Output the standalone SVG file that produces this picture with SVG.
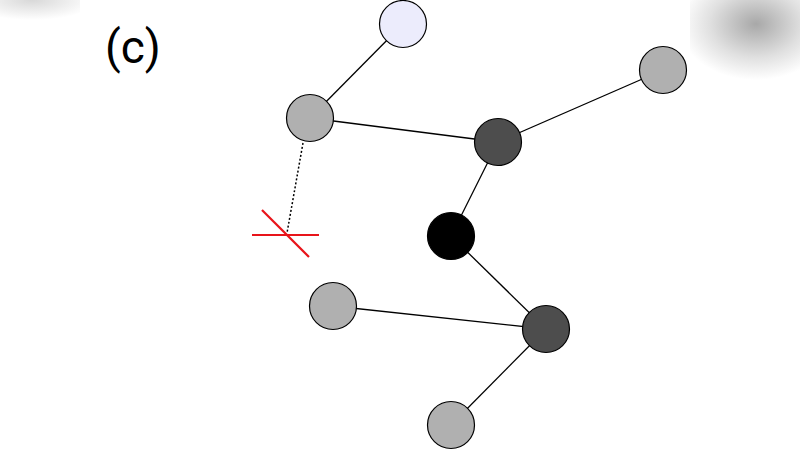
<svg xmlns="http://www.w3.org/2000/svg" width="800" height="450" viewBox="0 0 800 450">
<style>
.e{stroke:#000;stroke-width:1.3}
.n{stroke:#000;stroke-width:1.2}
.l{fill:#ececfc}.g{fill:#b0b0b0}.d{fill:#4d4d4d}.b{fill:#000}
</style>
<defs>
<radialGradient id="blur" cx="0.6" cy="0.3" r="0.7">
<stop offset="0" stop-color="#a8a8a8"/><stop offset="0.6" stop-color="#e0e0e0"/><stop offset="1" stop-color="#fff"/>
</radialGradient>
<radialGradient id="blur2" cx="0.4" cy="0" r="0.8">
<stop offset="0" stop-color="#d8d8d8"/><stop offset="1" stop-color="#fff"/>
</radialGradient>
</defs>
<rect width="800" height="450" fill="#fff"/>
<rect x="690" y="0" width="110" height="80" fill="url(#blur)"/>
<rect x="0" y="0" width="80" height="25" fill="url(#blur2)"/>
<text x="105" y="63" font-family="Roboto, sans-serif" font-size="46" fill="#000">(c)</text>
<g id="connectors">
<line class="e" x1="403" y1="24" x2="310" y2="118"/>
<line class="e" x1="310" y1="118" x2="498" y2="142"/>
<line class="e" x1="498" y1="142" x2="663" y2="70"/>
<line class="e" x1="498" y1="142" x2="451" y2="236"/>
<line class="e" x1="451" y1="236" x2="546" y2="329"/>
<line class="e" x1="333" y1="306" x2="546" y2="329"/>
<line class="e" x1="546" y1="329" x2="451" y2="425"/>
<line x1="303" y1="143" x2="287" y2="233" stroke="#000" stroke-width="1.5" stroke-dasharray="2,2"/>
</g>
<g id="cut" stroke="#e8141a" stroke-width="2.2">
<line x1="252" y1="235" x2="319" y2="235"/>
<line x1="262" y1="210" x2="309" y2="257"/>
</g>
<g id="n1"><circle class="n l" cx="403" cy="24" r="23.5"/></g>
<g id="n2"><circle class="n g" cx="310" cy="118" r="23.5"/></g>
<g id="n3"><circle class="n d" cx="498" cy="142" r="23.5"/></g>
<g id="n4"><circle class="n g" cx="663" cy="70" r="23.5"/></g>
<g id="n5"><circle class="n b" cx="451" cy="236" r="23.5"/></g>
<g id="n6"><circle class="n g" cx="333" cy="306" r="23.5"/></g>
<g id="n7"><circle class="n d" cx="546" cy="329" r="23.5"/></g>
<g id="n8"><circle class="n g" cx="451" cy="425" r="23.5"/></g>
</svg>
